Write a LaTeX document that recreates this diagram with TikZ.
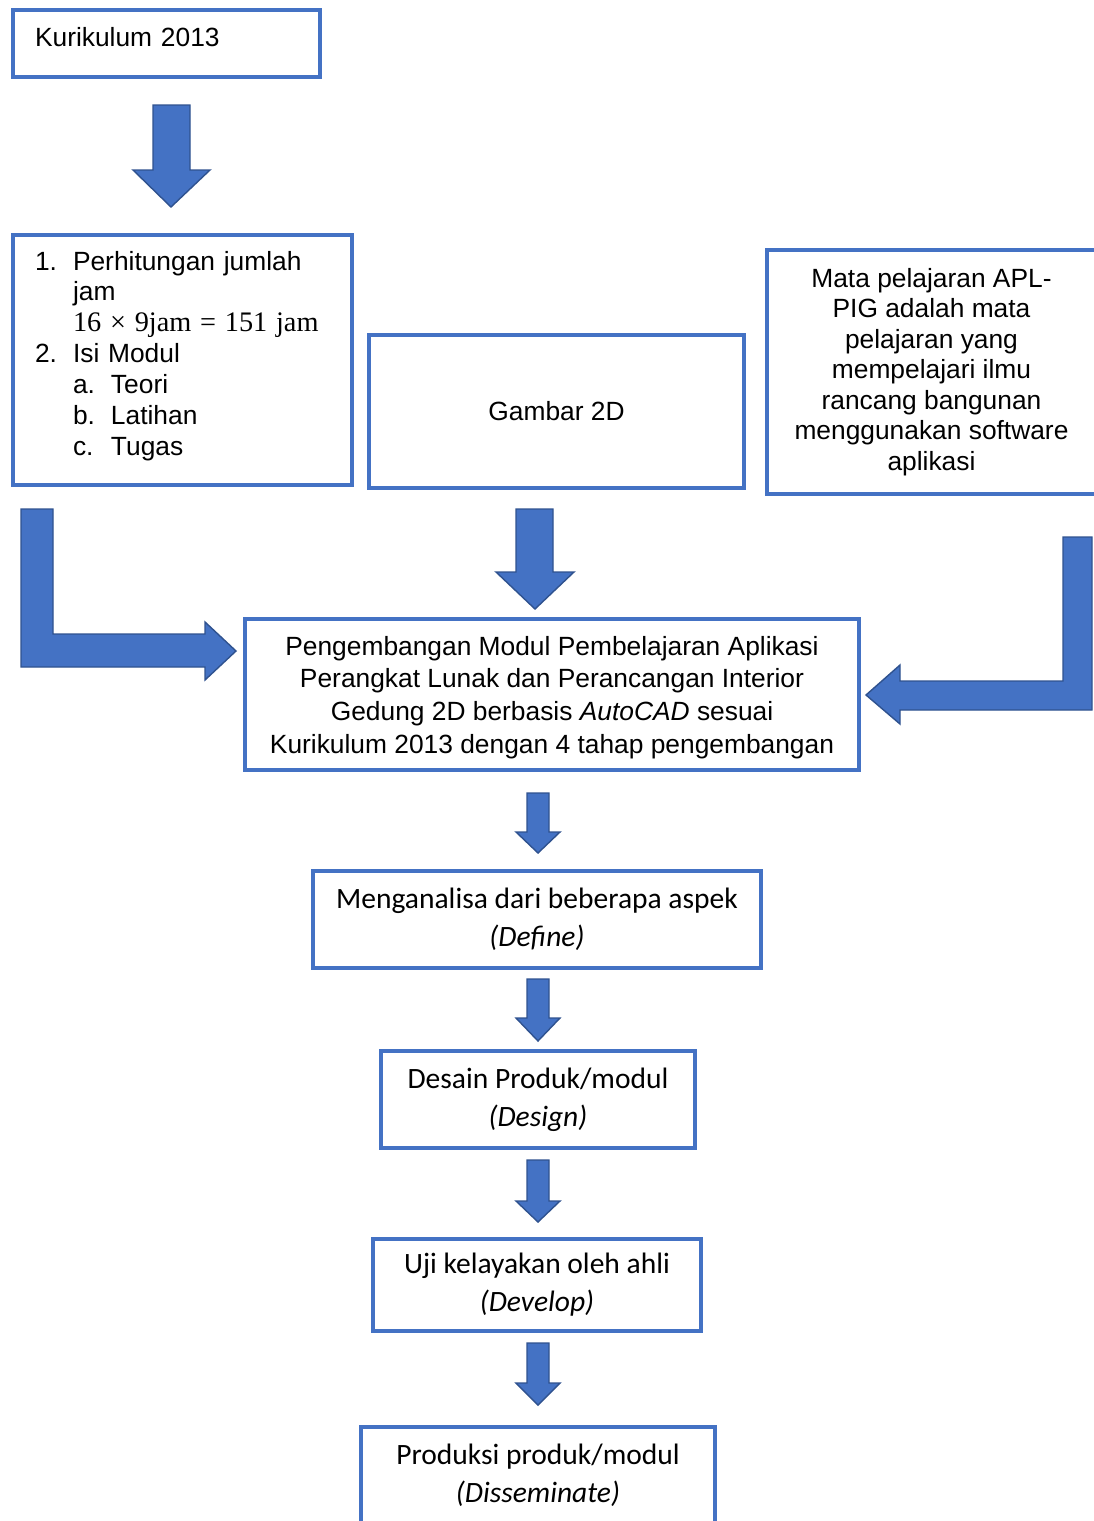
\documentclass[tikz,border=0pt]{standalone}
\usepackage{fontspec}
\setmainfont{Liberation Sans}
\newfontfamily\calibri{Carlito}
\newfontfamily\mathserif{Liberation Serif}
\usepackage{tikz}
\usetikzlibrary{positioning, calc}
\definecolor{boxblue}{RGB}{68,114,196}
\definecolor{arrowedge}{RGB}{47,82,143}

\begin{document}
\begin{tikzpicture}[
    x=0.02cm, y=-0.02cm,
    box/.style={draw=boxblue, line width=2.3pt, fill=white, inner sep=0pt, align=center, font=\fontsize{15}{17.6}\selectfont},
    stagebox/.style={box, font=\calibri\fontsize{16.8}{21.5}\selectfont},
    blockarrow/.style={fill=boxblue, draw=arrowedge, line width=0.8pt, line join=miter}
]
    \useasboundingbox (0,0) rectangle (1094,1521);

    % Input boxes
    \node[box, align=left, text width=5.26cm, inner xsep=0.44cm, minimum width=6.14cm, minimum height=1.34cm] (kur) at (166.5,43.5) {\raisebox{0.12cm}[\height][\depth]{Kurikulum 2013}};
    \node[box, align=left, text width=5.9cm, inner xsep=0.44cm, minimum width=6.78cm, minimum height=5cm] (list) at (182.5,360) {%
        \raisebox{0.08cm}[\height][\depth]{\begin{minipage}{5.9cm}\raggedright
        \makebox[0.76cm][l]{1.}Perhitungan jumlah\\
        \hspace*{0.76cm}jam\\
        \hspace*{0.76cm}{\mathserif\fontsize{16.1}{17.6}\selectfont 16 × 9jam = 151 jam}\\
        \makebox[0.76cm][l]{2.}Isi Modul\\
        \hspace*{0.76cm}\makebox[0.76cm][l]{a.}Teori\\
        \hspace*{0.76cm}\makebox[0.76cm][l]{b.}Latihan\\
        \hspace*{0.76cm}\makebox[0.76cm][l]{c.}Tugas
        \end{minipage}}};
    \node[box, minimum width=7.5cm, minimum height=3.06cm] (gbr) at (556.5,411.5) {Gambar 2D};
    \node[box, minimum width=6.58cm, minimum height=4.88cm, font=\fontsize{15}{17.4}\selectfont] (mapel) at (931.5,372) {Mata pelajaran APL-\\PIG adalah mata\\pelajaran yang\\mempelajari ilmu\\rancang bangunan\\menggunakan software\\aplikasi};

    % Main box
    \node[box, minimum width=12.28cm, minimum height=3.02cm, font=\fontsize{15}{18.7}\selectfont] (pen) at (552,694.5) {%
        \raisebox{-0.06cm}[\height][\depth]{\begin{minipage}{12cm}\centering
        Pengembangan Modul Pembelajaran Aplikasi\\Perangkat Lunak dan Perancangan Interior\\Gedung 2D berbasis \textit{AutoCAD} sesuai\\Kurikulum 2013 dengan 4 tahap pengembangan
        \end{minipage}}};

    % Stages
    \node[stagebox, minimum width=8.96cm, minimum height=1.94cm] (def) at (537,919.5) {Menganalisa dari beberapa aspek\\\textit{(Define)}};
    \node[stagebox, minimum width=6.28cm, minimum height=1.94cm] (des) at (538,1099.5) {Desain Produk/modul\\\textit{(Design)}};
    \node[stagebox, minimum width=6.56cm, minimum height=1.84cm] (dev) at (537,1285) {Uji kelayakan oleh ahli\\\textit{(Develop)}};
    \node[stagebox, minimum width=7.08cm, minimum height=1.94cm] (dis) at (538,1475.5) {Produksi produk/modul\\\textit{(Disseminate)}};

    % Block arrows
    \draw[blockarrow] (153,105) -- (190,105) -- (190,170) -- (210,170) -- (171,207) -- (133,170) -- (153,170) -- cycle;
    \draw[blockarrow] (21,509) -- (53,509) -- (53,634) -- (205,634) -- (205,622) -- (236,651) -- (205,680) -- (205,667) -- (21,667) -- cycle;
    \draw[blockarrow] (516,509) -- (553,509) -- (553,572) -- (574,572) -- (535,609) -- (496,572) -- (516,572) -- cycle;
    \draw[blockarrow] (1063,537) -- (1092,537) -- (1092,710) -- (900,710) -- (900,724) -- (866,695) -- (900,665) -- (900,681) -- (1063,681) -- cycle;
    \draw[blockarrow] (527,793) -- (549,793) -- (549,832) -- (560,832) -- (538,853) -- (516,832) -- (527,832) -- cycle;
    \draw[blockarrow] (527,979) -- (549,979) -- (549,1018) -- (560,1018) -- (538,1041) -- (516,1018) -- (527,1018) -- cycle;
    \draw[blockarrow] (527,1160) -- (549,1160) -- (549,1201) -- (560,1201) -- (538,1222) -- (516,1201) -- (527,1201) -- cycle;
    \draw[blockarrow] (527,1343) -- (549,1343) -- (549,1383) -- (560,1383) -- (538,1405) -- (516,1383) -- (527,1383) -- cycle;
\end{tikzpicture}
\end{document}
